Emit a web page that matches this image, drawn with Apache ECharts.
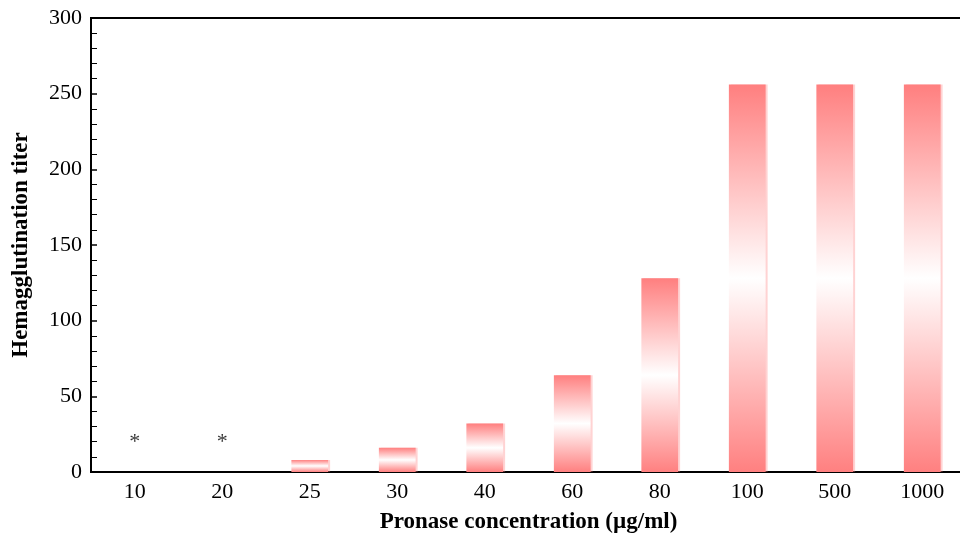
<!DOCTYPE html>
<html>
<head>
<meta charset="utf-8">
<script src="https://cdn.jsdelivr.net/npm/echarts@6/dist/echarts.min.js"></script>
<style>
  html, body { margin: 0; padding: 0; background: #fff; }
  #chart { width: 960px; height: 536px; }
</style>
</head>
<body>
<div id="chart"></div>
<script>
const categories = ['10', '20', '25', '30', '40', '60', '80', '100', '500', '1000']
const titers = [0, 0, 8, 16, 32, 64, 128, 256, 256, 256]
// asterisks over concentrations with no titer
const markedCategories = ['10', '20']
const markHeight = 20
const yTicks = {min: 0, max: 300, interval: 50}

const chart = echarts.init(document.getElementById('chart'))
const font = '"Liberation Serif", "DejaVu Serif", serif'

// half-category ticks for the minor marks on the x axis
const halfCategories = categories.flatMap(c => [c + 'a', c + 'b'])

const pinkBar = new echarts.graphic.LinearGradient(0, 0, 0, 1, [
  {offset: 0, color: '#ff7f7f'},
  {offset: 0.5, color: '#ffffff'},
  {offset: 1, color: '#ff8080'},
])

const options = {
  animation: false,
  grid: {
    left: 91,
    top: 18,
    width: 875,
    bottom: 64,
    outerBoundsMode: 'none',
    containLabel: false,
    show: true,
    borderColor: '#000',
    borderWidth: 2,
  },
  xAxis: [
    {
      type: 'category',
      data: categories,
      name: 'Pronase concentration (µg/ml)',
      nameLocation: 'middle',
      nameGap: 39,
      nameTextStyle: {fontFamily: font, fontWeight: 'bold', fontSize: 23, color: '#000'},
      axisLine: {lineStyle: {color: '#000', width: 2}},
      axisTick: {show: false},
      axisLabel: {fontFamily: font, fontSize: 22, color: '#000', margin: 9},
      splitLine: {show: false},
    },
    {
      type: 'category',
      data: halfCategories,
      position: 'bottom',
      axisLine: {show: false},
      axisTick: {inside: true, length: 6, lineStyle: {color: '#000', width: 1.5}},
      axisLabel: {show: false},
      splitLine: {show: false},
    },
  ],
  yAxis: {
    type: 'value',
    min: yTicks.min,
    max: yTicks.max,
    interval: yTicks.interval,
    name: 'Hemagglutination titer',
    nameLocation: 'middle',
    nameGap: 58,
    nameTextStyle: {fontFamily: font, fontWeight: 'bold', fontSize: 23, color: '#000'},
    axisLine: {show: true, lineStyle: {color: '#000', width: 2}},
    axisTick: {show: true, inside: true, length: 6, lineStyle: {color: '#000', width: 1.5}},
    minorTick: {show: true, splitNumber: 5, length: 6, lineStyle: {color: '#000', width: 1}},
    axisLabel: {fontFamily: font, fontSize: 22, color: '#000', margin: 9},
    splitLine: {show: false},
  },
  series: [
    {
      type: 'bar',
      data: titers,
      barWidth: '42%',
      itemStyle: {
        color: pinkBar,
        borderWidth: 0,
        shadowColor: 'rgba(255, 128, 128, 0.35)',
        shadowOffsetX: 2,
        shadowOffsetY: 0,
        shadowBlur: 0,
      },
    },
    {
      type: 'scatter',
      data: markedCategories.map(c => [c, markHeight]),
      symbolSize: 0,
      label: {
        show: true,
        position: 'inside',
        formatter: '*',
        fontFamily: font,
        fontSize: 22,
        color: '#000',
      },
    },
  ],
}
options && chart.setOption(options)
</script>
</body>
</html>
